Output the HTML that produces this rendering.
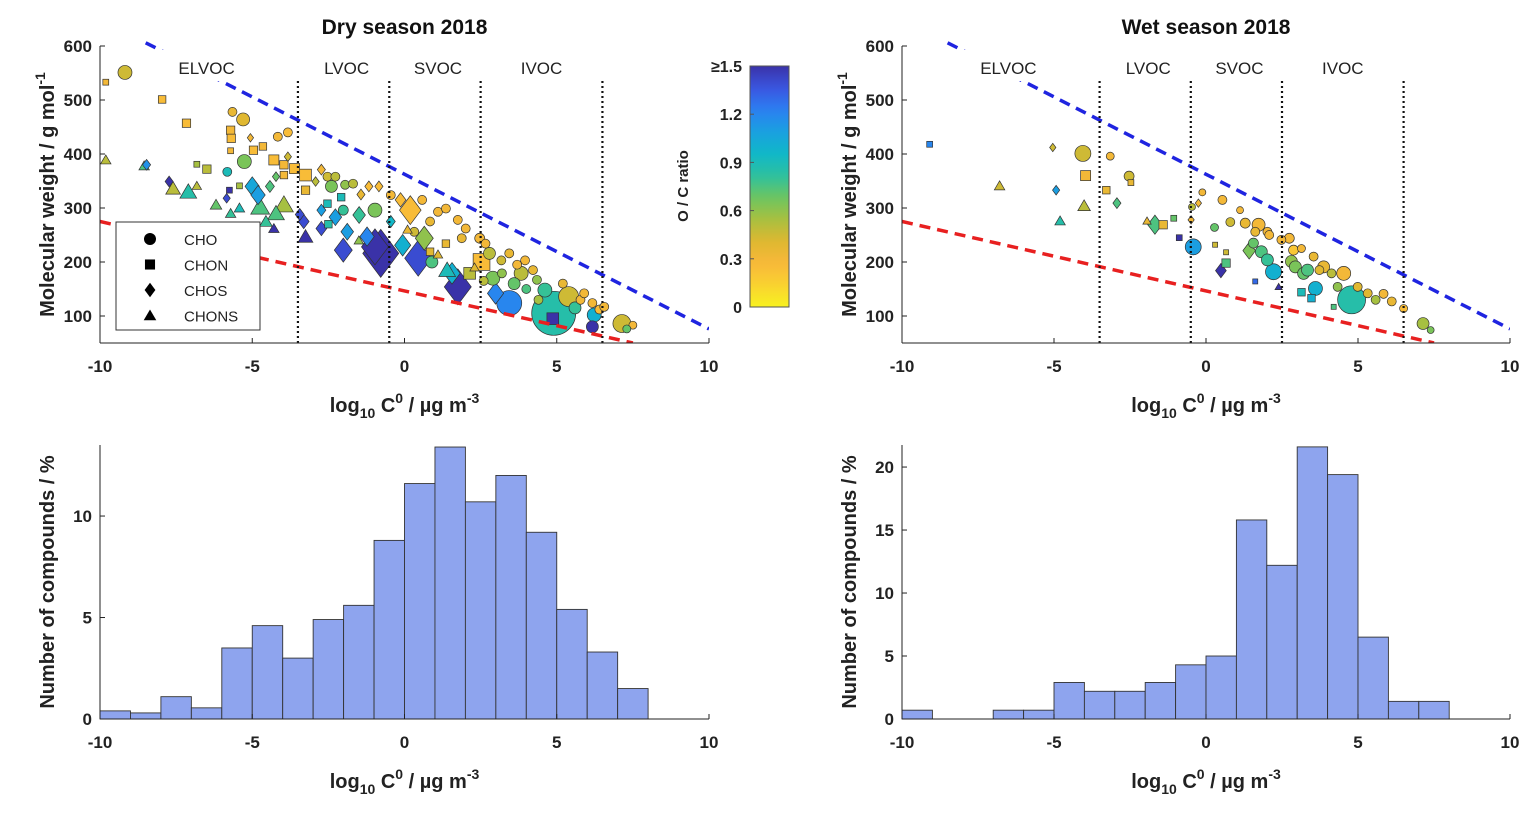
<!DOCTYPE html>
<html><head><meta charset="utf-8"><style>
html,body{margin:0;padding:0;background:#fff;}
svg{display:block;font-family:"Liberation Sans",sans-serif;}
</style></head><body>
<svg id="fig" width="1539" height="816" viewBox="0 0 1539 816">
<g id="static"></g>
</svg>
<script>
// ---------- data ----------
const histBins = [-10,-9,-8,-7,-6,-5,-4,-3,-2,-1,0,1,2,3,4,5,6,7];
const dryHist = [0.4,0.3,1.1,0.55,3.5,4.6,3.0,4.9,5.6,8.8,11.6,13.4,10.7,12.0,9.2,5.4,3.3,1.5];
const wetHist = [0.7,0,0,0.7,0.7,2.9,2.2,2.2,2.9,4.3,5.0,15.8,12.2,21.6,19.4,6.5,1.4,1.4];
const xTicks = [-10,-5,0,5,10];
const mwTicks = [100,200,300,400,500,600];
const dryHistTicks = [0,5,10];
const wetHistTicks = [0,5,10,15,20];
const ocTicks = [0,0.3,0.6,0.9,1.2,1.5];
const ocTickLabels = ["0","0.3","0.6","0.9","1.2","\u22651.5"];
const volBounds = [-3.5,-0.5,2.5,6.5];
const volNames = ["ELVOC","LVOC","SVOC","IVOC"];
const volLabelX = [-6.5,-1.9,1.1,4.5];
// rows: [log10 C0, MW, abundance, class(0 CHO,1 CHON,2 CHOS,3 CHONS), O/C]
const dryPts = [[-9.18,551,14,0,.45],[-9.81,533,7,1,.3],[-7.96,501,9,1,.25],[-7.16,457,10,1,.25],[-5.65,478,9,0,.35],[-5.3,464,13,0,.4],[-5.71,444,10,1,.3],[-5.69,429,10,1,.25],[-5.71,406,7,1,.3],[-5.06,430,7,2,.3],[-4.16,432,9,0,.3],[-3.83,440,9,0,.25],[-4.96,407,10,1,.25],[-4.65,414,9,1,.3],[-4.29,389,12,1,.25],[-3.96,380,10,1,.3],[-5.26,386,14,0,.65],[-5.82,367,9,0,.9],[-6.82,381,7,1,.55],[-6.49,372,10,1,.5],[-9.81,389,10,3,.5],[-8.55,378,10,3,.75],[-8.47,380,9,2,1.15],[-7.73,349,9,2,1.5],[-7.6,336,14,3,.5],[-7.1,330,16,3,.85],[-6.82,341,9,3,.5],[-5.42,341,7,1,.55],[-5.75,333,7,1,1.5],[-5.84,318,8,2,1.4],[-6.19,306,11,3,.7],[-5.71,290,10,3,.8],[-5.42,300,10,3,.9],[-5.0,340,16,2,1.05],[-4.81,324,16,2,1.1],[-4.74,302,18,3,.75],[-4.22,290,16,3,.75],[-3.96,306,18,3,.55],[-4.42,340,10,2,.75],[-4.22,358,8,2,.7],[-3.83,395,8,2,.45],[-4.29,262,10,3,1.5],[-4.55,275,12,3,.8],[-3.61,373,12,1,.25],[-3.96,361,9,1,.3],[-3.25,361,14,1,.25],[-3.25,333,10,1,.35],[-3.44,288,10,2,1.4],[-3.31,275,12,2,1.4],[-3.25,247,14,3,1.5],[-2.73,262,12,2,1.4],[-2.73,371,9,2,.3],[-2.53,358,9,0,.45],[-2.27,358,9,0,.5],[-2.4,340,12,0,.65],[-1.95,343,9,0,.6],[-1.69,345,9,0,.5],[-1.17,340,9,2,.25],[-0.84,340,9,2,.25],[-1.43,325,9,2,.35],[-2.92,349,8,2,.5],[-2.08,320,9,1,.9],[-2.53,308,9,1,.9],[-2.73,296,10,2,1.1],[-2.27,283,14,2,1.1],[-2.01,296,10,0,.8],[-1.49,287,14,2,.8],[-0.97,296,14,0,.65],[-0.45,324,9,0,.3],[-0.13,315,12,2,.25],[0.19,296,24,2,.25],[0.58,315,9,0,.3],[-0.78,216,40,2,1.5],[-0.97,228,30,2,1.5],[-2.01,222,20,2,1.4],[-1.23,247,16,2,1.2],[-1.88,256,14,2,1.1],[-0.45,275,10,2,.95],[-0.06,231,18,2,1.0],[0.45,207,30,2,1.4],[0.65,244,20,2,.6],[0.32,256,9,0,.45],[0.84,275,9,0,.35],[1.1,293,9,0,.3],[1.36,299,9,0,.3],[1.75,278,9,0,.3],[2.01,262,9,0,.3],[1.88,244,9,0,.35],[0.84,219,9,1,.4],[1.36,234,9,1,.35],[1.56,179,18,2,1.0],[1.75,154,30,2,1.5],[2.14,179,14,1,.5],[2.53,200,20,1,.25],[2.47,244,10,0,.3],[2.66,234,9,0,.3],[2.79,216,12,0,.5],[3.18,203,9,0,.45],[3.44,216,9,0,.35],[3.96,203,9,0,.3],[4.22,185,9,0,.35],[3.83,179,14,0,.5],[4.35,167,9,0,.6],[4.61,148,14,0,.8],[2.99,142,18,2,1.2],[3.44,124,25,0,1.2],[4.9,105,44,0,.85],[4.87,95,14,1,1.5],[5.39,136,20,0,.45],[5.78,130,9,0,.3],[5.9,142,9,0,.3],[6.17,124,9,0,.3],[6.4,112,9,0,.25],[6.56,117,9,0,.3],[6.17,80,12,0,1.5],[6.23,102,14,0,1.0],[7.14,86,18,0,.45],[7.5,83,8,0,.3],[7.3,76,8,0,.7],[3.2,179,9,0,.6],[3.6,160,12,0,.7],[4.0,150,9,0,.75],[4.4,130,9,0,.55],[2.9,170,14,0,.65],[3.7,195,9,0,.3],[5.6,115,12,0,.8],[5.2,160,9,0,.35],[2.3,190,9,3,.4],[1.1,214,9,3,.4],[0.9,200,12,0,.75],[1.4,185,16,3,.9],[2.6,165,9,0,.5],[-1.5,240,9,3,.6],[-2.5,270,9,1,.85],[0.1,260,9,3,.35]];
const wetPts = [[-9.09,418,7,1,1.2],[-5.04,412,7,2,.45],[-4.05,401,16,0,.45],[-3.15,396,8,0,.3],[-3.96,360,12,1,.3],[-2.53,359,10,0,.45],[-2.47,347,7,1,.35],[-6.79,341,10,3,.45],[-4.93,333,8,2,1.1],[-3.28,333,9,1,.35],[-4.01,304,12,3,.5],[-2.93,309,9,2,.75],[-4.8,276,10,3,.85],[-1.94,276,8,3,.35],[-1.68,269,16,2,.75],[-1.41,269,10,1,.35],[-1.06,281,7,1,.7],[-0.49,278,7,2,.3],[-0.46,302,7,0,.5],[-0.25,309,7,2,.3],[-0.12,329,7,0,.3],[-0.88,245,7,1,1.5],[-0.42,228,16,0,1.1],[0.54,315,9,0,.3],[1.12,296,7,0,.3],[0.28,264,8,0,.7],[0.8,274,9,0,.45],[1.29,272,10,0,.35],[1.73,269,13,0,.3],[1.62,256,9,0,.35],[2.02,256,9,0,.3],[2.08,250,9,0,.3],[0.3,232,6,1,.45],[0.66,218,6,1,.45],[0.66,198,10,1,.75],[0.49,184,12,2,1.5],[1.42,221,14,2,.65],[1.56,235,10,0,.7],[1.82,219,12,0,.75],[2.02,204,12,0,.8],[2.22,182,16,0,1.0],[1.62,164,6,1,1.3],[2.39,154,7,3,1.5],[2.48,241,9,0,.3],[2.74,244,10,0,.3],[2.88,222,10,0,.2],[3.14,225,8,0,.3],[2.81,201,12,0,.6],[2.94,191,12,0,.65],[3.21,179,12,0,.7],[3.34,185,12,0,.75],[3.54,210,9,0,.35],[3.87,191,12,0,.35],[3.73,185,9,0,.4],[4.13,179,9,0,.5],[4.53,179,14,0,.3],[4.33,154,9,0,.6],[3.6,151,14,0,1.0],[3.14,144,9,1,.9],[3.47,133,9,1,1.0],[4.79,130,28,0,.85],[4.2,117,6,1,.75],[4.99,154,9,0,.4],[5.32,142,9,0,.4],[5.58,130,9,0,.55],[5.84,141,9,0,.3],[6.11,127,9,0,.35],[6.5,114,8,0,.25],[7.14,86,12,0,.55],[7.39,74,7,0,.65]];
const upperLine = [[-8.5,606],[10,76]];
const lowerLine = [[-10,275],[7.5,50]];

// ---------- helpers ----------
const NS = "http://www.w3.org/2000/svg";
const svg = document.getElementById('fig');
function mk(tag, attrs, parent){ const e=document.createElementNS(NS,tag); for(const k in attrs) e.setAttribute(k,attrs[k]); (parent||svg).appendChild(e); return e; }
// colormap stops, from O/C = 0 (yellow) to 1.5 (indigo)
const cmap = [[248,242,32],[249,210,48],[248,184,58],[222,184,48],[168,192,64],[108,197,96],[45,192,160],[16,184,200],[26,160,224],[43,127,242],[58,85,224],[58,50,168]];
function ocColor(oc){ let t=Math.min(Math.max(oc,0),1.5)/1.5; const p=t*(cmap.length-1); const i=Math.min(Math.floor(p),cmap.length-2); const f=p-i; const c=cmap[i].map((v,k)=>Math.round(v+(cmap[i+1][k]-v)*f)); return `rgb(${c[0]},${c[1]},${c[2]})`; }
function xlabel(parent,cx,y){ const t=mk('text',{x:cx,y:y,'text-anchor':'middle','font-size':20,'font-weight':'bold',fill:'#222'},parent);
 t.innerHTML='log<tspan font-size="14" dy="6">10</tspan><tspan dy="-6"> C</tspan><tspan font-size="14" dy="-9">0</tspan><tspan dy="9"> / µg m</tspan><tspan font-size="14" dy="-9">-3</tspan>'; return t; }

function makeAxes(o){
 const g=mk('g',{});  
 const sx=v=>o.L+(v+10)/20*(o.R-o.L);
 const sy=v=>o.B-(v-o.ymin)/(o.ymax-o.ymin)*(o.B-o.T);
 return {g,sx,sy};
}
function drawAxisFrame(a,o,yt){
 const {g,sx,sy}=a;
 const ax=mk('g',{stroke:'#222','stroke-width':1,fill:'none'},g);  
 mk('line',{x1:o.L,y1:o.B,x2:o.R,y2:o.B},ax); mk('line',{x1:o.L,y1:o.B,x2:o.L,y2:o.T},ax);
 xTicks.forEach(v=>{ mk('line',{x1:sx(v),y1:o.B,x2:sx(v),y2:o.B-5},ax);
  const t=mk('text',{x:sx(v),y:o.B+29,'text-anchor':'middle','font-size':17,'font-weight':'bold',fill:'#222'},g); t.textContent=v;
    });
 yt.forEach(v=>{ mk('line',{x1:o.L,y1:sy(v),x2:o.L+5,y2:sy(v)},ax);
  const t=mk('text',{x:o.L-8,y:sy(v)+6,'text-anchor':'end','font-size':17,'font-weight':'bold',fill:'#222'},g); t.textContent=v;
    });
 const xl=xlabel(g,(o.L+o.R)/2,o.B+69);  
}
function marker(parent,x,y,s,type,fill){
 let e;
 if(type===0) e=mk('circle',{cx:x,cy:y,r:s/2},parent);
 else if(type===1){ const h=s*0.42; e=mk('rect',{x:x-h,y:y-h,width:2*h,height:2*h},parent); }
 else if(type===2){ const h=s*0.6,w=s*0.45; e=mk('polygon',{points:`${x},${y-h} ${x+w},${y} ${x},${y+h} ${x-w},${y}`},parent); }
 else { const h=s*0.5; e=mk('polygon',{points:`${x},${y-h} ${x+h*1.05},${y+h*0.8} ${x-h*1.05},${y+h*0.8}`},parent); }
 e.setAttribute('fill',fill); e.setAttribute('stroke','#333'); e.setAttribute('stroke-width','0.7');
 return e;
}
function scatterPanel(o,pts,title){
 const a=makeAxes(o); const {g,sx,sy}=a;
 const tt=mk('text',{x:(o.L+o.R)/2,y:34,'text-anchor':'middle','font-size':21,'font-weight':'bold',fill:'#111'},g); tt.textContent=title;
  
 const yl=mk('text',{transform:`translate(${o.L-46},${(o.T+o.B)/2}) rotate(-90)`,'text-anchor':'middle','font-size':20,'font-weight':'bold',fill:'#222'},g);
 yl.innerHTML='Molecular weight / g mol<tspan font-size="14" dy="-9">-1</tspan>';
  
 const clip='c'+o.L; const cp=mk('clipPath',{id:clip},g); mk('rect',{x:o.L,y:o.T-10,width:o.R-o.L,height:o.B-o.T+10},cp);
 const pg=mk('g',{'clip-path':`url(#${clip})`},g);  
 const sorted=pts.slice().sort((p,q)=>q[2]-p[2]);
 sorted.forEach(p=>{ const m=marker(pg,sx(p[0]),sy(p[1]),p[2],p[3],ocColor(p[4]));
  
   });
 const ub=mk('line',{x1:sx(upperLine[0][0]),y1:sy(upperLine[0][1]),x2:sx(upperLine[1][0]),y2:sy(upperLine[1][1]),stroke:'#1f24e0','stroke-width':3.5,'stroke-dasharray':'11,7'},pg);
  
 const lb=mk('line',{x1:sx(lowerLine[0][0]),y1:sy(lowerLine[0][1]),x2:sx(lowerLine[1][0]),y2:sy(lowerLine[1][1]),stroke:'#e82020','stroke-width':3.5,'stroke-dasharray':'11,7'},pg);
  
 // label band (white background hides lines behind labels)
 mk('rect',{x:o.L+40,y:o.T+4,width:o.R-o.L-100,height:31,fill:'#fff'},g);
 volBounds.forEach(v=>{ const l=mk('line',{x1:sx(v),y1:o.B,x2:sx(v),y2:sy(540),stroke:'#111','stroke-width':2.2,'stroke-dasharray':'2,3'},g);
    });
 volNames.forEach((n,i)=>{ const t=mk('text',{x:sx(volLabelX[i]),y:o.T+28,'text-anchor':'middle','font-size':17,fill:'#222'},g); t.textContent=n;
    });
 drawAxisFrame(a,o,mwTicks);
 return a;
}
function histPanel(o,vals,yt){
 const a=makeAxes(o); const {g,sx,sy}=a;
 const yl=mk('text',{transform:`translate(${o.L-46},${(o.T+o.B)/2}) rotate(-90)`,'text-anchor':'middle','font-size':20,'font-weight':'bold',fill:'#222'},g);
 yl.textContent='Number of compounds / %';
  
 histBins.forEach((b,i)=>{ if(vals[i]<=0) return;
  const r=mk('rect',{x:sx(b),y:sy(vals[i]),width:sx(b+1)-sx(b),height:sy(0)-sy(vals[i]),fill:'#8ea4ee',stroke:'#333','stroke-width':0.9},g);
    });
 drawAxisFrame(a,o,yt);
}
const TL={name:'dry-scatter-panel',L:100,R:709,T:46,B:343,ymin:50,ymax:600};
const TR={name:'wet-scatter-panel',L:902,R:1510,T:46,B:343,ymin:50,ymax:600};
const BL={name:'dry-histogram-panel',L:100,R:709,T:445,B:719,ymin:0,ymax:13.5};
const BR={name:'wet-histogram-panel',L:902,R:1510,T:445,B:719,ymin:0,ymax:21.75};
scatterPanel(TL,dryPts,'Dry season 2018');
scatterPanel(TR,wetPts,'Wet season 2018');
histPanel(BL,dryHist,dryHistTicks);
histPanel(BR,wetHist,wetHistTicks);

// legend
const lg=mk('g',{});  
mk('rect',{x:116,y:222,width:144,height:108,fill:'#fff',stroke:'#333','stroke-width':1},lg);
['CHO','CHON','CHOS','CHONS'].forEach((n,i)=>{ const y=239+i*25.5; marker(lg,150,y,12,i,'#000').setAttribute('stroke','none');
 const t=mk('text',{x:184,y:y+6,'font-size':15,fill:'#222'},lg); t.textContent=n;
   });

// colorbar
const cb=mk('g',{});  
const gr=mk('linearGradient',{id:'cbg',x1:0,y1:1,x2:0,y2:0},cb);
for(let i=0;i<=30;i++){ mk('stop',{offset:i/30,'stop-color':ocColor(i/30*1.5)},gr); }
const cbT=66,cbB=307;
mk('rect',{x:750,y:cbT,width:39,height:cbB-cbT,fill:'url(#cbg)',stroke:'#555','stroke-width':1},cb);
ocTicks.forEach((v,i)=>{ const y=cbB-v/1.5*(cbB-cbT);
 mk('line',{x1:750,y1:y,x2:754,y2:y,stroke:'#555'},cb);
 const t=mk('text',{x:742,y:y+6,'text-anchor':'end','font-size':16,'font-weight':'bold',fill:'#222'},cb); t.textContent=ocTickLabels[i];
   });
const cbl=mk('text',{transform:'translate(688,186) rotate(-90)','text-anchor':'middle','font-size':15,'font-weight':'bold',fill:'#222'},cb); cbl.textContent='O / C ratio';
 
</script>
</body></html>
